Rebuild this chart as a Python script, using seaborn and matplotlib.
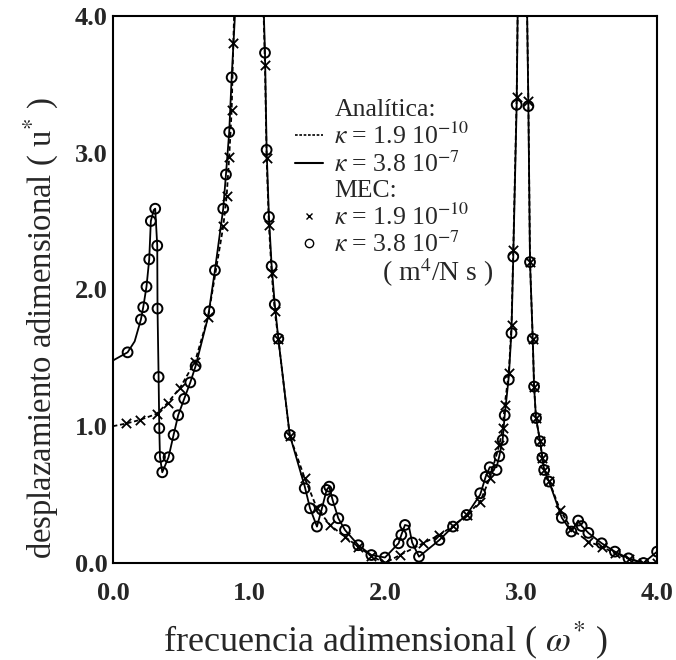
import numpy as np
import pandas as pd
import matplotlib
matplotlib.use('Agg')
import matplotlib.pyplot as plt
from matplotlib.lines import Line2D
from matplotlib.ticker import MultipleLocator
import seaborn as sns

# curva analitica, kappa = 3.8e-7 (continua)
w_sol = [0.0, 0.108, 0.16, 0.206, 0.223, 0.247, 0.267, 0.279, 0.30, 0.311, 0.326, 0.328, 0.336,
         0.341, 0.346, 0.363, 0.409, 0.446, 0.48, 0.524, 0.569, 0.608, 0.70, 0.75, 0.811, 0.831,
         0.855, 0.873, 0.897, 0.93, 1.0, 1.08, 1.11, 1.118, 1.13, 1.147, 1.167, 1.19, 1.216, 1.30,
         1.41, 1.449, 1.50, 1.534, 1.571, 1.59, 1.615, 1.657, 1.706, 1.804, 1.90, 2.0, 2.10, 2.12,
         2.147, 2.175, 2.20, 2.25, 2.40, 2.50, 2.60, 2.70, 2.74, 2.77, 2.82, 2.84, 2.865, 2.88,
         2.91, 2.93, 2.943, 2.968, 2.975, 3.0, 3.045, 3.054, 3.066, 3.086, 3.096, 3.11, 3.14,
         3.157, 3.17, 3.206, 3.30, 3.37, 3.42, 3.446, 3.495, 3.593, 3.69, 3.79, 3.90, 4.0]
u_sol = [1.48, 1.54, 1.62, 1.78, 1.87, 2.02, 2.22, 2.50, 2.58, 2.59, 2.32, 1.86, 1.36,
         0.985, 0.775, 0.663, 0.773, 0.936, 1.08, 1.20, 1.32, 1.44, 1.80, 2.14, 2.59, 2.84,
         3.15, 3.55, 4.0, 5.0, 7.0, 5.0, 4.0, 3.73, 3.02, 2.53, 2.17, 1.89, 1.64, 0.936,
         0.56, 0.40, 0.266, 0.39, 0.534, 0.558, 0.46, 0.327, 0.241, 0.13, 0.058, 0.04, 0.144, 0.205,
         0.278, 0.27, 0.149, 0.046, 0.168, 0.266, 0.351, 0.50, 0.63, 0.70, 0.70, 0.78, 0.90, 1.08,
         1.36, 1.70, 2.24, 3.35, 4.0, 7.0, 4.0, 3.34, 2.20, 1.64, 1.29, 1.06, 0.89,
         0.77, 0.68, 0.595, 0.33, 0.23, 0.31, 0.27, 0.22, 0.144, 0.083, 0.034, 0.0, 0.083]

# curva analitica, kappa = 1.9e-10 (discontinua)
w_das = [0.0, 0.10, 0.199, 0.321, 0.402, 0.493, 0.603, 0.70, 0.811, 0.836, 0.855, 0.873, 0.885,
         0.90, 1.0, 1.10, 1.118, 1.13, 1.147, 1.167, 1.19, 1.216, 1.30, 1.41, 1.50, 1.596, 1.706,
         1.804, 1.90, 2.0, 2.11, 2.28, 2.40, 2.50, 2.60, 2.70, 2.77, 2.84, 2.865, 2.88, 2.91, 2.93,
         2.943, 2.968, 2.975, 3.0, 3.045, 3.054, 3.066, 3.086, 3.096, 3.11, 3.14, 3.157, 3.17,
         3.206, 3.287, 3.37, 3.495, 3.593, 3.69, 3.79, 3.90, 4.0]
u_das = [1.0, 1.02, 1.046, 1.09, 1.17, 1.28, 1.47, 1.80, 2.46, 2.68, 2.97, 3.31, 3.80,
         4.3, 7.0, 4.3, 3.64, 2.96, 2.47, 2.12, 1.84, 1.64, 0.93, 0.62, 0.40, 0.278, 0.19,
         0.12, 0.05, 0.0, 0.058, 0.144, 0.205, 0.27, 0.35, 0.448, 0.62, 0.86, 0.985, 1.155, 1.39, 1.74,
         2.29, 3.41, 4.0, 7.0, 4.0, 3.38, 2.20, 1.64, 1.29, 1.06, 0.89, 0.77, 0.68,
         0.60, 0.388, 0.25, 0.156, 0.12, 0.07, 0.03, 0.0, 0.0]

# MEC, kappa = 1.9e-10 (x)
w_mec1 = [0.10, 0.199, 0.321, 0.402, 0.493, 0.603, 0.70, 0.811, 0.836, 0.855, 0.873, 0.885,
          1.118, 1.13, 1.147, 1.167, 1.19, 1.216, 1.30, 1.41, 1.50, 1.596, 1.706, 1.804, 1.90,
          2.0, 2.11, 2.28, 2.40, 2.50, 2.60, 2.70, 2.77, 2.84, 2.865, 2.88, 2.91, 2.93, 2.943,
          2.968, 3.054, 3.066, 3.086, 3.096, 3.11, 3.14, 3.157, 3.17, 3.206, 3.287, 3.37, 3.495,
          3.593, 3.69, 3.79, 3.90, 4.0]
u_mec1 = [1.02, 1.046, 1.09, 1.17, 1.28, 1.47, 1.80, 2.46, 2.68, 2.97, 3.31, 3.80,
          3.64, 2.96, 2.47, 2.12, 1.84, 1.64, 0.93, 0.62, 0.40, 0.278, 0.19, 0.12, 0.05,
          0.0, 0.058, 0.144, 0.205, 0.27, 0.35, 0.448, 0.62, 0.86, 0.985, 1.155, 1.39, 1.74, 2.29,
          3.41, 3.38, 2.20, 1.64, 1.29, 1.06, 0.89, 0.77, 0.68, 0.60, 0.388, 0.25, 0.156,
          0.12, 0.07, 0.03, 0.0, 0.0]

# MEC, kappa = 3.8e-7 (o)
w_mec2 = [0.108, 0.206, 0.223, 0.247, 0.267, 0.279, 0.311, 0.326, 0.328, 0.336, 0.341, 0.346,
          0.363, 0.409, 0.446, 0.48, 0.524, 0.569, 0.608, 0.708, 0.75, 0.811, 0.831, 0.855, 0.873,
          1.118, 1.13, 1.147, 1.167, 1.19, 1.216, 1.30, 1.41, 1.449, 1.50, 1.534, 1.571, 1.59,
          1.615, 1.657, 1.706, 1.804, 1.90, 2.0, 2.10, 2.12, 2.147, 2.20, 2.25, 2.40, 2.50, 2.60,
          2.70, 2.74, 2.77, 2.82, 2.84, 2.865, 2.88, 2.91, 2.93, 2.943, 2.968, 3.054, 3.066, 3.086,
          3.096, 3.11, 3.14, 3.157, 3.17, 3.206, 3.30, 3.37, 3.42, 3.446, 3.495, 3.593, 3.69, 3.79,
          3.90, 4.0]
u_mec2 = [1.54, 1.78, 1.87, 2.02, 2.22, 2.50, 2.59, 2.32, 1.86, 1.36, 0.985, 0.775,
          0.663, 0.773, 0.936, 1.08, 1.20, 1.32, 1.44, 1.84, 2.14, 2.59, 2.84, 3.15, 3.55,
          3.73, 3.02, 2.53, 2.17, 1.89, 1.64, 0.936, 0.546, 0.40, 0.266, 0.39, 0.534, 0.558,
          0.46, 0.327, 0.241, 0.13, 0.058, 0.04, 0.144, 0.205, 0.278, 0.149, 0.046, 0.168, 0.266, 0.351,
          0.51, 0.63, 0.70, 0.68, 0.78, 0.90, 1.08, 1.34, 1.68, 2.24, 3.35, 3.34, 2.20, 1.64,
          1.29, 1.06, 0.89, 0.77, 0.68, 0.595, 0.33, 0.23, 0.31, 0.27, 0.22, 0.144, 0.083, 0.034,
          0.0, 0.083]

xticks = [0.0, 1.0, 2.0, 3.0, 4.0]
tick_labels = ['0.0', '1.0', '2.0', '3.0', '4.0']

sns.set_style('white')
plt.rcParams['font.family'] = ['Liberation Serif', 'DejaVu Serif']
plt.rcParams['mathtext.fontset'] = 'stix'

fig = plt.figure(figsize=(6.76, 6.60), dpi=100)
ax = fig.add_axes([0.167, 0.147, 0.805, 0.829])

sns.lineplot(x=w_das, y=u_das, sort=False, estimator=None, color='black', lw=1.3,
             linestyle=(0, (2.5, 1.5)), ax=ax)
sns.lineplot(x=w_sol, y=u_sol, sort=False, estimator=None, color='black', lw=1.3, ax=ax)
sns.scatterplot(x=w_mec1, y=u_mec1, marker='x', color='black', s=45, linewidth=1.3, ax=ax)
sns.scatterplot(x=w_mec2, y=u_mec2, marker='o', facecolor='none', edgecolor='black', s=50,
                linewidth=1.4, ax=ax)

ax.set_xlim(0, 4)
ax.set_ylim(0, 4)
ax.set_xticks(xticks)
ax.set_xticklabels(tick_labels)
ax.set_yticks(xticks)
ax.set_yticklabels(tick_labels)
ax.xaxis.set_minor_locator(MultipleLocator(0.2))
ax.yaxis.set_minor_locator(MultipleLocator(0.2))
ax.tick_params(which='major', direction='in', length=8, width=1.2, labelsize=19)
ax.tick_params(which='minor', direction='in', length=4, width=1.0)
ax.tick_params(axis='y', which='major', pad=4)
ax.tick_params(axis='x', which='major', pad=14)
for lab in ax.get_xticklabels() + ax.get_yticklabels():
    lab.set_fontweight('bold')
for sp in ax.spines.values():
    sp.set_color('black')
    sp.set_linewidth(1.5)

ax.set_xlabel('frecuencia adimensional ( $\\omega^{*}$ )', fontsize=26, labelpad=10)
ax.set_ylabel('desplazamiento adimensional ( u$^{*}$ )', fontsize=23.5)
ax.yaxis.set_label_coords(-0.095, 0.43)

# leyenda
blank = Line2D([], [], linestyle='none')
handles = [blank,
           Line2D([], [], color='black', lw=1.2, linestyle=(0, (1.6, 1.0))),
           Line2D([], [], color='black', lw=1.5),
           blank,
           Line2D([], [], color='black', marker='x', linestyle='none', markersize=5),
           Line2D([], [], color='black', marker='o', markerfacecolor='none', linestyle='none',
                  markersize=6)]
labels = ['Analítica:',
          '$\\kappa$ = 1.9 10$^{-10}$',
          '$\\kappa$ = 3.8 10$^{-7}$',
          'MEC:',
          '$\\kappa$ = 1.9 10$^{-10}$',
          '$\\kappa$ = 3.8 10$^{-7}$']
leg = ax.legend(handles, labels, loc='upper left', bbox_to_anchor=(0.315, 0.868),
                frameon=False, fontsize=18.5, handlelength=1.1, handletextpad=0.45,
                labelspacing=0.07, borderaxespad=0)
ax.text(0.494, 0.53, '( m$^4$/N s )', transform=ax.transAxes, fontsize=20, va='center')

plt.savefig('out.png', dpi=100)
